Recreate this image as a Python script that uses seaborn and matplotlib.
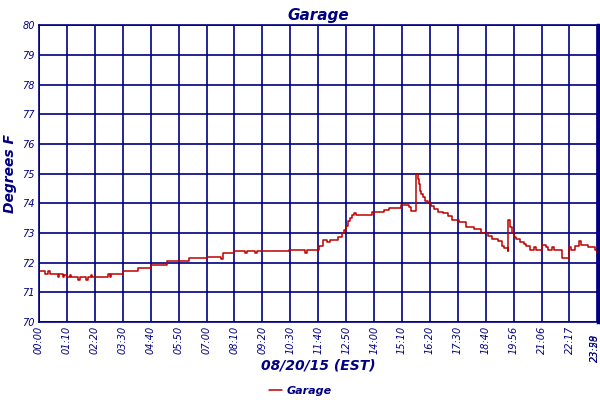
import pandas as pd
import numpy as np
import seaborn as sns
import matplotlib.pyplot as plt

# readings, sample index (about one per minute) and temperature
sample_idx = [0, 15, 22, 27, 47, 50, 60, 62, 70, 77, 80, 97, 102, 117, 122, 130, 132,
              172, 177, 180, 211, 247, 280, 322, 375, 420, 457, 462, 490, 517, 522,
              542, 547, 627, 667, 672, 702, 712, 722, 730, 750, 760, 765, 770, 775,
              780, 785, 790, 795, 835, 865, 877, 907, 927, 932, 945, 950, 952, 955,
              957, 962, 967, 975, 982, 990, 1000, 1012, 1025, 1035, 1052, 1070, 1090,
              1107, 1125, 1135, 1152, 1160, 1167, 1175, 1177, 1182, 1185, 1190, 1195,
              1205, 1217, 1222, 1230, 1240, 1247, 1260, 1270, 1277, 1285, 1290, 1312,
              1330, 1335, 1345, 1355, 1360, 1377, 1395, 1400]
temp_f = [71.73, 71.63, 71.73, 71.63, 71.5, 71.63, 71.5, 71.6, 71.5, 71.6, 71.5, 71.4,
          71.5, 71.4, 71.5, 71.6, 71.5, 71.63, 71.5, 71.63, 71.73, 71.82, 71.92, 72.05,
          72.17, 72.2, 72.12, 72.31, 72.38, 72.31, 72.38, 72.31, 72.38, 72.42, 72.31,
          72.42, 72.57, 72.75, 72.68, 72.75, 72.86, 73.0, 73.1, 73.25, 73.4, 73.5,
          73.6, 73.67, 73.6, 73.7, 73.77, 73.85, 73.93, 73.88, 73.75, 75.0, 74.81,
          74.64, 74.42, 74.31, 74.2, 74.09, 74.0, 73.9, 73.8, 73.72, 73.66, 73.56,
          73.45, 73.36, 73.2, 73.12, 73.0, 72.9, 72.79, 72.72, 72.57, 72.5, 72.38,
          73.42, 73.2, 73.0, 72.85, 72.78, 72.7, 72.62, 72.55, 72.43, 72.52, 72.43,
          72.6, 72.52, 72.43, 72.52, 72.43, 72.17, 72.52, 72.43, 72.55, 72.73, 72.6,
          72.52, 72.43, 72.33]

tick_pos = [0, 70, 140, 210, 280, 350, 420, 490, 560, 630, 700, 770, 840, 910, 980,
            1050, 1120, 1190, 1260, 1330, 1400]
tick_lab = ['00:00', '01:10', '02:20', '03:30', '04:40', '05:50', '07:00', '08:10',
            '09:20', '10:30', '11:40', '12:50', '14:00', '15:10', '16:20', '17:30',
            '18:40', '19:56', '21:06', '22:17', '23:28']
end_lab = '23:59'

df = pd.DataFrame({'sample': sample_idx, 'temp': temp_f})

navy = '#000080'
sns.set_style('white')
plt.rcParams['font.family'] = ['DejaVu Sans']

fig, ax = plt.subplots(figsize=(6, 4), dpi=100)
fig.subplots_adjust(left=0.065, right=0.997, top=0.937, bottom=0.195)

sns.lineplot(x='sample', y='temp', data=df, ax=ax, color='#c00000', lw=1.1,
             drawstyle='steps-post', estimator=None, label='Garage', legend=False)

ax.set_xlim(0, 1402)
ax.set_ylim(70, 80)
ax.set_yticks(range(70, 81))
ax.set_xticks(tick_pos)
ax.set_xticklabels(tick_lab[:-1] + [''], rotation=90)
ax.grid(True, color=navy, lw=1.2)
ax.tick_params(length=0, labelcolor=navy, labelsize=7, pad=3)
for t in ax.get_xticklabels() + ax.get_yticklabels():
    t.set_style('italic')
# the last two labels sit on top of each other at the right edge
for xpos, lab in [(1393, tick_lab[-1]), (1395, end_lab)]:
    ax.text(xpos, 69.62, lab, rotation=90, ha='center', va='top',
            color=navy, fontsize=7, style='italic')
for s in ax.spines.values():
    s.set_color(navy)
    s.set_linewidth(1.2)
ax.spines['right'].set_linewidth(2.5)

ax.set_title('Garage', color=navy, fontsize=11, weight='bold', style='italic', pad=4)
ax.set_ylabel('Degrees F', color=navy, fontsize=10, weight='bold', style='italic', labelpad=4)
ax.set_xlabel('08/20/15 (EST)', color=navy, fontsize=10, weight='bold', style='italic', labelpad=3)

leg = fig.legend(loc='lower center', bbox_to_anchor=(0.5, -0.015), frameon=False,
                 handlelength=1.2, handletextpad=0.4, prop={'size': 8, 'weight': 'bold', 'style': 'italic'})
for t in leg.get_texts():
    t.set_color(navy)

plt.savefig('out.png', dpi=100)
